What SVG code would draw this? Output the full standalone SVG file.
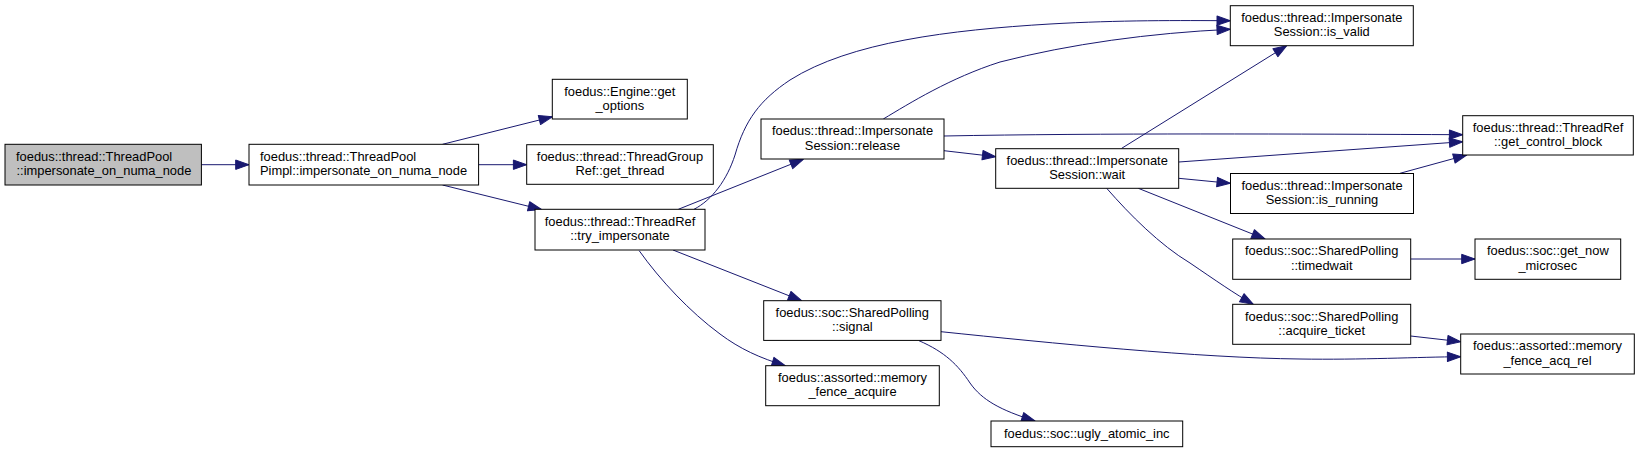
<svg xmlns="http://www.w3.org/2000/svg" width="1640" height="453" viewBox="0 0 1640 453">
<style>
.n rect{fill:#ffffff;stroke:#000000;stroke-width:1}
.n text{font-family:"Liberation Sans",Arial,sans-serif;font-size:12.9px;fill:#000000;text-anchor:middle}
.n text.l{text-anchor:start}
#n1 rect{fill:#bfbfbf}
.e path{fill:none;stroke:#191970;stroke-width:1;marker-end:url(#ah)}
</style>
<defs>
<marker id="ah" markerUnits="userSpaceOnUse" markerWidth="15.3" markerHeight="11.4" viewBox="-1 -1 15.3 11.4" refX="13.3" refY="4.7" orient="auto">
<path d="M0,0 L13.3,4.7 L0,9.4 z" fill="#191970" stroke="#191970" stroke-width="1" stroke-linejoin="round"/>
</marker>
</defs>
<rect width="1640" height="453" fill="#ffffff"/>
<g class="e" id="edges">
<path d="M201.4,164.7 L249,164.7"/>
<path d="M442.5,144.3 L552.3,116.8"/>
<path d="M478.6,164.7 L526.7,164.7"/>
<path d="M442.5,185 L541.5,209.5"/>
<path d="M678.3,209.3 L803.3,159.3"/>
<path d="M694,209.3 C712,200 727,180 735,155 C745,120 760,100 790,80 C850,42 950,30 1050,24 C1120,20 1180,20.5 1230.3,20.7"/>
<path d="M673,250 L801.6,300.7"/>
<path d="M639.2,250.7 C660,280 690,312 720,334 C740,349 760,358 785.3,365.7"/>
<path d="M883.3,119 C910,103 950,78 1000,62 C1070,44 1150,33 1230.3,29.3"/>
<path d="M944,136 C1100,133 1300,134 1462.7,134.7"/>
<path d="M944,150.7 L995.7,156.7"/>
<path d="M1121.7,148.3 L1286.7,45.7"/>
<path d="M1178.7,162 L1462.7,141.7"/>
<path d="M1178.7,178.3 L1230.3,183.3"/>
<path d="M1138.3,188.3 L1265,239"/>
<path d="M1106.7,188.3 C1130,215 1160,245 1190,263 C1215,280 1235,294 1253.3,304.3"/>
<path d="M1400,173.3 L1466.7,155"/>
<path d="M1410.7,259 L1475,259"/>
<path d="M1410.7,336 L1460.7,341.7"/>
<path d="M941,331.7 C1050,343 1200,358 1300,359 C1360,360 1420,357 1460.7,356.7"/>
<path d="M919,340.7 C945,352 958,365 970,383 C982,400 1000,410 1035,421"/>
</g>
<g class="n" id="n1"><rect x="5" y="144.3" width="196.4" height="40.7"/><text class="l" x="16" y="160.6">foedus::thread::ThreadPool</text><text class="l" x="16.5" y="175">::impersonate_on_numa_node</text></g>
<g class="n" id="n2"><rect x="249" y="144.3" width="229.6" height="40.7"/><text class="l" x="260" y="160.6">foedus::thread::ThreadPool</text><text class="l" x="260" y="175">Pimpl::impersonate_on_numa_node</text></g>
<g class="n" id="n3"><rect x="552.3" y="79.3" width="135" height="39.7"/><text x="619.8" y="95.6">foedus::Engine::get</text><text x="619.8" y="110">_options</text></g>
<g class="n" id="n4"><rect x="526.7" y="144.7" width="186.6" height="39.6"/><text x="620" y="161">foedus::thread::ThreadGroup</text><text x="620" y="175.4">Ref::get_thread</text></g>
<g class="n" id="n5"><rect x="535" y="209.3" width="170" height="40.7"/><text x="620" y="225.6">foedus::thread::ThreadRef</text><text x="620" y="240">::try_impersonate</text></g>
<g class="n" id="n6"><rect x="761" y="119" width="183" height="40"/><text x="852.5" y="135.3">foedus::thread::Impersonate</text><text x="852.5" y="149.7">Session::release</text></g>
<g class="n" id="n7"><rect x="995.7" y="148.7" width="183" height="39.6"/><text x="1087.2" y="165">foedus::thread::Impersonate</text><text x="1087.2" y="179.4">Session::wait</text></g>
<g class="n" id="n8"><rect x="1230.3" y="5.7" width="183" height="40"/><text x="1321.8" y="22">foedus::thread::Impersonate</text><text x="1321.8" y="36.4">Session::is_valid</text></g>
<g class="n" id="n9"><rect x="1462.7" y="115.7" width="170.6" height="39.3"/><text x="1548" y="132">foedus::thread::ThreadRef</text><text x="1548" y="146.4">::get_control_block</text></g>
<g class="n" id="n10"><rect x="1230.5" y="173.5" width="183" height="40"/><text x="1322" y="189.8">foedus::thread::Impersonate</text><text x="1322" y="204.2">Session::is_running</text></g>
<g class="n" id="n11"><rect x="1232.7" y="239" width="178" height="40.3"/><text x="1321.7" y="255.3">foedus::soc::SharedPolling</text><text x="1321.7" y="269.7">::timedwait</text></g>
<g class="n" id="n12"><rect x="1475" y="239" width="145.7" height="40.3"/><text x="1547.8" y="255.3">foedus::soc::get_now</text><text x="1547.8" y="269.7">_microsec</text></g>
<g class="n" id="n13"><rect x="1232.7" y="304.3" width="178" height="40"/><text x="1321.7" y="320.6">foedus::soc::SharedPolling</text><text x="1321.7" y="335">::acquire_ticket</text></g>
<g class="n" id="n14"><rect x="1460.7" y="334" width="173.6" height="40"/><text x="1547.5" y="350.3">foedus::assorted::memory</text><text x="1547.5" y="364.7">_fence_acq_rel</text></g>
<g class="n" id="n15"><rect x="763.7" y="300.7" width="177.3" height="39.7"/><text x="852.3" y="317">foedus::soc::SharedPolling</text><text x="852.3" y="331.4">::signal</text></g>
<g class="n" id="n16"><rect x="765.7" y="365.7" width="173.6" height="40"/><text x="852.5" y="382">foedus::assorted::memory</text><text x="852.5" y="396.4">_fence_acquire</text></g>
<g class="n" id="n17"><rect x="991" y="421" width="191.7" height="25.7"/><text x="1086.8" y="437.6">foedus::soc::ugly_atomic_inc</text></g>
</svg>
